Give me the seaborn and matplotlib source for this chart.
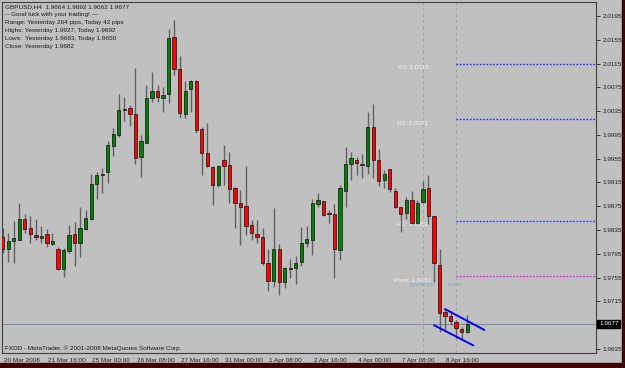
import numpy as np
import pandas as pd
import matplotlib
matplotlib.use("Agg")
import matplotlib.pyplot as plt
import matplotlib.transforms as mtransforms
from matplotlib.patches import Rectangle
import seaborn as sns

# ---------------- data (GBPUSD, H4) ----------------
opens = [1.9824, 1.9803, 1.9817, 1.9819, 1.9854, 1.9838, 1.9827, 1.9822, 1.9828, 1.9812,
         1.9803, 1.9769, 1.9799, 1.9828, 1.9813, 1.9836, 1.9853, 1.9912, 1.9927, 1.9933,
         1.9977, 1.9994, 2.0037, 2.0041, 2.0030, 1.9957, 1.9982, 2.0057, 2.0069, 2.0057,
         2.0063, 2.0159, 2.0105, 2.0030, 2.0072, 2.0085, 2.0005, 1.9965, 1.9941, 1.9910,
         1.9953, 1.9944, 1.9905, 1.9881, 1.9876, 1.9844, 1.9829, 1.9823, 1.9779, 1.9749,
         1.9803, 1.9748, 1.9769, 1.9771, 1.9781, 1.9814, 1.9818, 1.9879, 1.9883, 1.9863,
         1.9862, 1.9802, 1.9901, 1.9946, 1.9953, 1.9945, 1.9943, 2.0008, 1.9953, 1.9919,
         1.9938, 1.9901, 1.9873, 1.9863, 1.9885, 1.9846, 1.9882, 1.9905, 1.9859, 1.9777,
         1.9697, 1.9691, 1.9681, 1.9668, 1.9664]
highs = [1.9838, 1.9830, 1.9850, 1.9881, 1.9862, 1.9859, 1.9853, 1.9841, 1.9836, 1.9830,
         1.9806, 1.9804, 1.9844, 1.9848, 1.9873, 1.9869, 1.9929, 1.9933, 1.9939, 1.9985,
         2.0007, 2.0064, 2.0058, 2.0045, 2.0108, 1.9995, 2.0079, 2.0100, 2.0079, 2.0076,
         2.0173, 2.0189, 2.0127, 2.0085, 2.0087, 2.0087, 2.0008, 2.0015, 1.9943, 1.9944,
         1.9978, 1.9966, 1.9908, 1.9902, 1.9942, 1.9852, 1.9852, 1.9838, 1.9803, 1.9872,
         1.9811, 1.9772, 1.9786, 1.9792, 1.9840, 1.9842, 1.9887, 1.9897, 1.9884, 1.9869,
         1.9878, 1.9911, 1.9974, 1.9966, 1.9957, 1.9963, 2.0033, 2.0047, 1.9971, 1.9936,
         1.9938, 1.9906, 1.9874, 1.9891, 1.9900, 1.9886, 1.9918, 1.9927, 1.9859, 1.9803,
         1.9702, 1.9698, 1.9684, 1.9672, 1.9692]
lows = [1.9796, 1.9782, 1.9779, 1.9818, 1.9830, 1.9814, 1.9818, 1.9814, 1.9807, 1.9810,
        1.9768, 1.9756, 1.9797, 1.9775, 1.9790, 1.9835, 1.9852, 1.9888, 1.9897, 1.9914,
        1.9959, 1.9992, 2.0018, 2.0010, 1.9946, 1.9924, 1.9981, 2.0051, 2.0051, 2.0033,
        2.0048, 2.0096, 2.0023, 2.0023, 2.0033, 1.9999, 1.9928, 1.9941, 1.9877, 1.9908,
        1.9911, 1.9881, 1.9839, 1.9810, 1.9827, 1.9818, 1.9814, 1.9777, 1.9733, 1.9740,
        1.9726, 1.9737, 1.9754, 1.9745, 1.9775, 1.9807, 1.9793, 1.9874, 1.9859, 1.9846,
        1.9755, 1.9785, 1.9874, 1.9919, 1.9928, 1.9923, 1.9929, 1.9923, 1.9909, 1.9905,
        1.9899, 1.9872, 1.9831, 1.9854, 1.9846, 1.9845, 1.9880, 1.9845, 1.9748, 1.9663,
        1.9667, 1.9675, 1.9653, 1.9650, 1.9662]
closes = [1.9803, 1.9817, 1.9821, 1.9853, 1.9837, 1.9828, 1.9823, 1.9825, 1.9813, 1.9817,
          1.9769, 1.9802, 1.9827, 1.9814, 1.9838, 1.9855, 1.9913, 1.9928, 1.9930, 1.9978,
          1.9996, 2.0037, 2.0038, 2.0030, 1.9956, 1.9984, 2.0057, 2.0069, 2.0059, 2.0062,
          2.0158, 2.0106, 2.0031, 2.0069, 2.0085, 2.0003, 1.9965, 1.9942, 1.9910, 1.9943,
          1.9943, 1.9904, 1.9880, 1.9874, 1.9842, 1.9830, 1.9824, 1.9779, 1.9750, 1.9803,
          1.9747, 1.9771, 1.9771, 1.9779, 1.9813, 1.9820, 1.9881, 1.9885, 1.9860, 1.9862,
          1.9803, 1.9905, 1.9946, 1.9956, 1.9947, 1.9946, 2.0008, 1.9953, 1.9918, 1.9930,
          1.9904, 1.9874, 1.9862, 1.9886, 1.9847, 1.9880, 1.9904, 1.9859, 1.9779, 1.9695,
          1.9691, 1.9682, 1.9670, 1.9663, 1.9677]

tick_bars = [0, 8, 16, 24, 32, 40, 48, 56, 64, 72, 80]
tick_labels = ["20 Mar 2008", "21 Mar 16:00", "25 Mar 00:00", "26 Mar 08:00",
               "27 Mar 16:00", "31 Mar 00:00", "1 Apr 08:00", "2 Apr 16:00",
               "4 Apr 00:00", "7 Apr 08:00", "8 Apr 16:00"]
price_ticks = [2.0195, 2.0155, 2.0115, 2.0075, 2.0035, 1.9995, 1.9955, 1.9915,
               1.9875, 1.9835, 1.9795, 1.9755, 1.9715, 1.9635]

pivot_names = ["R3", "R2", "R1", "Pivot"]
pivot_values = [2.0115, 2.0021, 1.9851, 1.9757]
yesterday_start = 76
today_start = 82
last_price = 1.9677

channel_upper_x = [80.0, 87.1]
channel_upper_y = [1.9702, 1.9667]
channel_lower_x = [78.0, 85.1]
channel_lower_y = [1.9675, 1.9641]

header_lines = [
    "GBPUSD,H4  1.9664 1.9692 1.9662 1.9677",
    "-- Good luck with your trading! ---",
    "Range: Yesterday 264 pips, Today 42 pips",
    "Highs: Yesterday 1.9927, Today 1.9692",
    "Lows:  Yesterday 1.9663, Today 1.9650",
    "Close: Yesterday 1.9682",
]
footer_text = "FXDD - MetaTrader, \u00a9 2001-2008 MetaQuotes Software Corp."

# ---------------- style ----------------
sns.set_theme(style="white")
plt.rcParams["font.family"] = ["Liberation Sans", "DejaVu Sans"]
BG = "#c0c0c0"
FS = 4.6

W, H = 625, 368
fig = plt.figure(figsize=(W / 100, H / 100), dpi=100, facecolor=BG)
ax = fig.add_axes([2 / W, 1 - 353 / H, 594 / W, 351 / H])
ax.set_facecolor(BG)

x0, x1 = -0.127, 107.3
y0, y1 = 1.96282, 2.02185

# ---------------- candles ----------------
n = len(opens)
xs = np.arange(n)
o = np.array(opens); c = np.array(closes)
ax.vlines(xs, lows, highs, color="#606060", lw=1.0, zorder=3)
bottoms = np.minimum(o, c)
heights = np.maximum(np.abs(c - o), 0.00004)
cols = ["#008000" if cc >= oo else "#ff0000" for oo, cc in zip(o, c)]
ax.bar(xs, heights, bottom=bottoms, width=0.6, color=cols, edgecolor="#101010",
       linewidth=0.5, zorder=4)

# ---------------- day separators ----------------
for b in (yesterday_start, today_start):
    ax.axvline(b, color="#a4a4a4", lw=0.8, ls=(0, (3, 2.5)), zorder=1)

# ---------------- pivot levels ----------------
for name, val in zip(pivot_names, pivot_values):
    col = "#ff00ff" if name == "Pivot" else "#2a2aff"
    ax.hlines(val, today_start, x1, color=col, lw=1.0, ls=(0, (1.2, 1.2)), zorder=2)
    ax.annotate(f"{name}: {val:.4f}", (74.2, val), xytext=(0, -1.2),
                textcoords="offset points", ha="center", va="top",
                fontsize=FS, color="#f4f4f4", zorder=2)
ax.text(yesterday_start, 1.97426, "yesterday", ha="center", va="center",
        fontsize=FS, color="#7eaabb", zorder=5)
ax.text(today_start, 1.97426, "today", ha="center", va="center",
        fontsize=FS, color="#7eaabb", zorder=5)

# current price line
ax.axhline(last_price, color="#8590a0", lw=0.8, zorder=2)

# ---------------- channel (seaborn) ----------------
df = pd.DataFrame({
    "bar": channel_upper_x + channel_lower_x,
    "price": channel_upper_y + channel_lower_y,
    "line": ["upper"] * 2 + ["lower"] * 2,
})
sns.lineplot(data=df, x="bar", y="price", units="line", estimator=None,
             color="#0000ff", lw=1.4, ax=ax, legend=False, zorder=6)
ax.set_xlabel("")
ax.set_ylabel("")

# ---------------- axes ----------------
ax.set_xlim(x0, x1)
ax.set_ylim(y0, y1)
ax.yaxis.tick_right()
ax.set_yticks(price_ticks)
ax.set_yticklabels([f"{v:.4f}" for v in price_ticks])
ax.tick_params(axis="y", direction="out", length=3, width=0.6, labelsize=FS,
               pad=1.5, colors="#202020")
ax.set_xticks(tick_bars)
ax.set_xticklabels(tick_labels, ha="left")
ax.tick_params(axis="x", direction="out", length=3, width=0.6, labelsize=FS,
               pad=0.6, colors="#202020")
off = mtransforms.ScaledTranslation(1.2 / 100, 0, fig.dpi_scale_trans)
for lbl in ax.get_xticklabels():
    lbl.set_transform(lbl.get_transform() + off)
for sp in ax.spines.values():
    sp.set_visible(True)
    sp.set_color("#404040")
    sp.set_linewidth(0.8)

# current price box on right axis
trans = mtransforms.blended_transform_factory(ax.transAxes, ax.transData)
ax.text(1 + 3 / 594, last_price, f"{last_price:.4f}", transform=trans, ha="left",
        va="center", fontsize=FS, color="white", clip_on=False, zorder=10,
        bbox=dict(boxstyle="square,pad=0.3", fc="black", ec="black"))

# ---------------- texts ----------------
for k, line in enumerate(header_lines):
    fig.text(5 / W, 1 - (6.7 + 8.05 * k) / H, line, ha="left", va="center",
             fontsize=FS, color="#1a1a1a")
fig.text(5 / W, 1 - 348.5 / H, footer_text, ha="left", va="center",
         fontsize=FS, color="#1a1a1a")

# window frame strips
fig.patches.append(Rectangle((0, 0), 1, 5 / H, transform=fig.transFigure,
                             color="#3c0606", zorder=-1))
fig.patches.append(Rectangle((622 / W, 0), 3 / W, 1, transform=fig.transFigure,
                             color="#3c0606", zorder=-1))

fig.savefig("out.png", dpi=100, facecolor=BG)
